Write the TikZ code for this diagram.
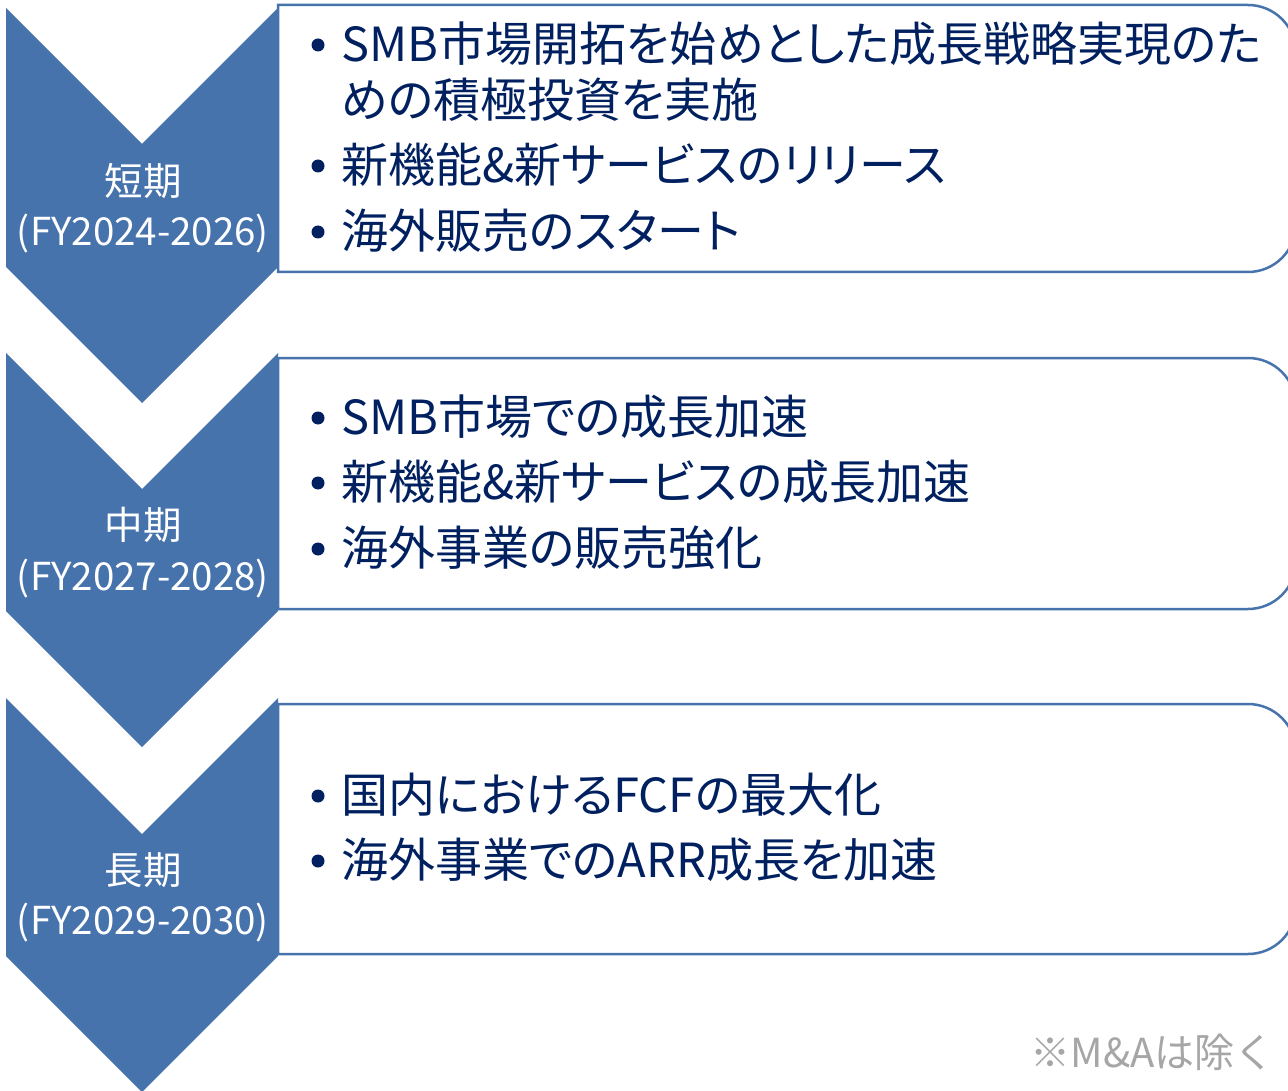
\documentclass[tikz,border=0pt]{standalone}
\usepackage{fontspec}
\setmainfont{Noto Sans CJK JP}
\newfontfamily\paltfont[RawFeature=+palt]{Noto Sans CJK JP}
\definecolor{chevblue}{RGB}{71,115,172}
\definecolor{navy}{RGB}{0,32,96}
\definecolor{notegray}{RGB}{166,166,166}
\tikzset{
 chev/.style={fill=chevblue, draw=none},
 pbox/.style={draw=chevblue, line width=2.5pt, fill=white},
 item/.style={anchor=west, inner sep=0pt, text=navy, font=\paltfont\fontsize{47}{47}\selectfont, text height=41.4pt, text depth=5.6pt},
 lab/.style={inner sep=0pt, text=white, font=\fontsize{38.5}{38.5}\selectfont, text height=33.9pt, text depth=4.6pt},
 dot/.style={circle, fill=navy, inner sep=0pt, minimum size=13pt},
}
\begin{document}
\begin{tikzpicture}[x=1pt,y=1pt]
\useasboundingbox (0,0) rectangle (1288,-1091);
% boxes
\foreach \t/\b in {5/272, 358/609, 704/954}{
 \draw[pbox] (278,-\t) -- (1248,-\t) arc[start angle=90,end angle=0,radius=48pt] -- (1296,-\b+48) arc[start angle=0,end angle=-90,radius=48pt] -- (278,-\b) -- cycle;
}
% chevrons
\foreach \t/\s in {8/267, 353/611, 698/956}{
 \fill[chev] (6,-\t) -- (142,-\t-136) -- (278,-\t) -- (278,-\s) -- (142,-\s-136) -- (6,-\s) -- cycle;
}
% labels
\node[lab] (l1a) at (143,-181) {短期};
\node[lab] (l1b) at (143,-231) {(FY2024-2026)};
\node[lab] (l2a) at (143,-525) {中期};
\node[lab] (l2b) at (143,-576) {(FY2027-2028)};
\node[lab] (l3a) at (143,-870) {長期};
\node[lab] (l3b) at (143,-920) {(FY2029-2030)};
% items box 1
\node[dot] (b11) at (318,-45) {};
\node[item] (t11) at (341,-44) {SMB市場開拓を始めとした成長戦略実現のた};
\node[item] (t11b) at (341,-100) {めの積極投資を実施};
\node[dot] (b12) at (318,-166) {};
\node[item] (t12) at (341,-165) {新機能\&新サービスのリリース};
\node[dot] (b13) at (318,-232) {};
\node[item] (t13) at (341,-231) {海外販売のスタート};
% items box 2
\node[dot] (b21) at (318,-418) {};
\node[item] (t21) at (341,-417) {SMB市場での成長加速};
\node[dot] (b22) at (318,-483) {};
\node[item] (t22) at (341,-482) {新機能\&新サービスの成長加速};
\node[dot] (b23) at (318,-549) {};
\node[item] (t23) at (341,-548) {海外事業の販売強化};
% items box 3
\node[dot] (b31) at (318,-796) {};
\node[item] (t31) at (341,-795) {国内におけるFCFの最大化};
\node[dot] (b32) at (318,-861) {};
\node[item] (t32) at (341,-860) {海外事業でのARR成長を加速};
% note
\node[anchor=east, inner sep=0pt, text=notegray, font=\fontsize{40}{40}\selectfont, text height=35.2pt, text depth=4.8pt] (note) at (1275,-1052) {※M\&Aは除く};
\end{tikzpicture}
\end{document}
